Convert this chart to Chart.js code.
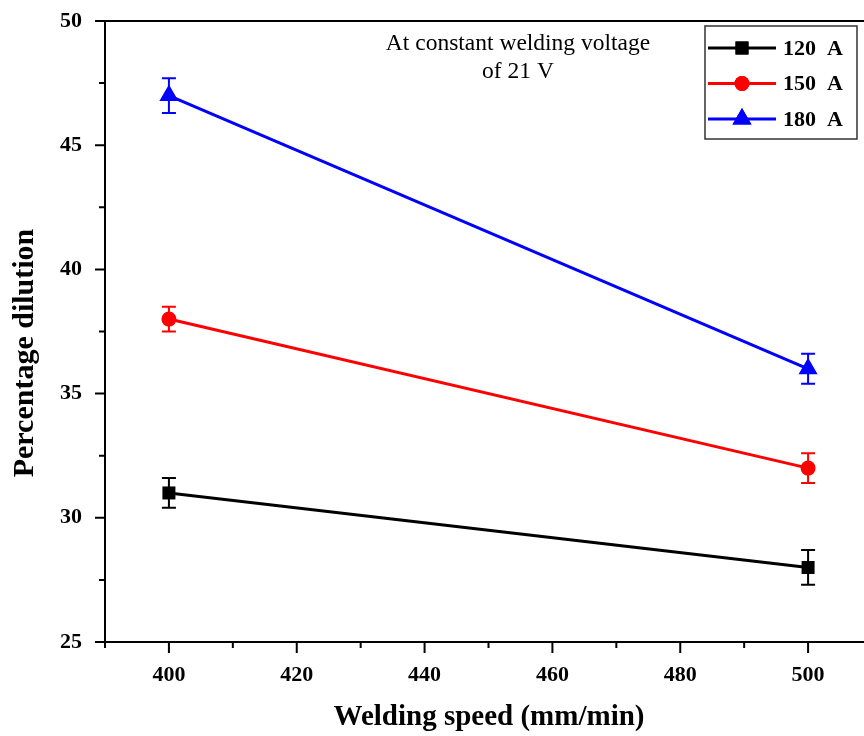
<!DOCTYPE html>
<html>
<head>
<meta charset="utf-8">
<script src="https://cdn.jsdelivr.net/npm/chart.js@4.4.1/dist/chart.umd.min.js"></script>
<style>
  html, body { margin: 0; padding: 0; overflow: hidden; background: #fff; }
  #wrap { width: 883px; height: 736px; }
</style>
</head>
<body>
<div id="wrap"><canvas id="dilutionChart"></canvas></div>
<script>
// welding speed (mm/min) and dilution (%) per current
const speeds = [400, 500];
const dil120 = [31, 28];
const dil150 = [38, 32];
const dil180 = [47, 36];
const err120 = [0.6, 0.7];
const err150 = [0.5, 0.6];
const err180 = [0.7, 0.6];
const seriesLabels = ['120  A', '150  A', '180  A'];
const noteLines = ['At constant welding voltage', 'of 21 V'];

const serif = "'Liberation Serif', 'Times New Roman', serif";

function points(ys) {
  return speeds.map((s, i) => ({ x: s, y: ys[i] }));
}

var data = {
  datasets: [{
    label: seriesLabels[0],
    data: points(dil120),
    errors: err120,
    borderColor: '#000000',
    backgroundColor: '#000000',
    pointStyle: 'rect',
    pointRadius: 9.2
  },
  {
    label: seriesLabels[1],
    data: points(dil150),
    errors: err150,
    borderColor: '#ff0000',
    backgroundColor: '#ff0000',
    pointStyle: 'circle',
    pointRadius: 7.5
  },
  {
    label: seriesLabels[2],
    data: points(dil180),
    errors: err180,
    borderColor: '#0000ff',
    backgroundColor: '#0000ff',
    pointStyle: 'triangle',
    pointRadius: 11
  }]
};

// error bars, drawn under the markers
const errorBars = {
  id: 'errorBars',
  beforeDatasetsDraw(chart) {
    const ctx = chart.ctx;
    const y = chart.scales.y;
    chart.data.datasets.forEach((ds, di) => {
      const meta = chart.getDatasetMeta(di);
      ctx.save();
      ctx.strokeStyle = ds.borderColor;
      ctx.lineWidth = 2;
      meta.data.forEach((pt, i) => {
        const v = ds.data[i].y, e = ds.errors[i];
        const top = y.getPixelForValue(v + e);
        const bot = y.getPixelForValue(v - e);
        ctx.beginPath();
        ctx.moveTo(pt.x, top); ctx.lineTo(pt.x, bot);
        ctx.moveTo(pt.x - 7, top); ctx.lineTo(pt.x + 7, top);
        ctx.moveTo(pt.x - 7, bot); ctx.lineTo(pt.x + 7, bot);
        ctx.stroke();
      });
      ctx.restore();
    });
  }
};

// outward major/minor ticks, top frame line, legend box, note and axis titles
const decorations = {
  id: 'decorations',
  afterDraw(chart) {
    const ctx = chart.ctx;
    const area = chart.chartArea;
    const xs = chart.scales.x, ys = chart.scales.y;
    ctx.save();
    ctx.strokeStyle = '#000';
    ctx.lineWidth = 2;

    ctx.beginPath();
    ctx.moveTo(area.left - 1, area.top);
    ctx.lineTo(area.right, area.top);
    ctx.stroke();

    ctx.beginPath();
    xs.ticks.forEach(t => {
      const px = xs.getPixelForValue(t.value);
      const len = t.value % 20 === 0 ? 11 : 6;
      ctx.moveTo(px, area.bottom);
      ctx.lineTo(px, area.bottom + len);
    });
    ys.ticks.forEach(t => {
      const py = ys.getPixelForValue(t.value);
      const len = t.value % 5 === 0 ? 10 : 6;
      ctx.moveTo(area.left, py);
      ctx.lineTo(area.left - len, py);
    });
    ctx.stroke();

    // legend
    const bx = 705, by = 26, bw = 152, bh = 113;
    ctx.fillStyle = '#fff';
    ctx.fillRect(bx, by, bw, bh);
    ctx.strokeStyle = '#333';
    ctx.lineWidth = 1.5;
    ctx.strokeRect(bx, by, bw, bh);
    ctx.font = 'bold 22px ' + serif;
    ctx.textBaseline = 'middle';
    ctx.textAlign = 'left';
    chart.data.datasets.forEach((ds, i) => {
      const ry = 48 + i * 35.5;
      ctx.strokeStyle = ds.borderColor;
      ctx.lineWidth = 3;
      ctx.beginPath();
      ctx.moveTo(708, ry); ctx.lineTo(776, ry);
      ctx.stroke();
      ctx.fillStyle = ds.backgroundColor;
      Chart.helpers.drawPoint(ctx, { pointStyle: ds.pointStyle, radius: ds.pointRadius, borderWidth: 0 }, 742, ry);
      ctx.fill();
      ctx.fillStyle = '#000';
      ctx.fillText(ds.label, 783, ry + 1);
    });

    // note
    ctx.fillStyle = '#000';
    ctx.font = '23.5px ' + serif;
    ctx.textAlign = 'center';
    ctx.fillText(noteLines[0], 518, 44);
    ctx.fillText(noteLines[1], 518, 72);

    // axis titles
    ctx.font = 'bold 29px ' + serif;
    ctx.fillText('Welding speed (mm/min)', 489, 718);
    ctx.font = 'bold 30px ' + serif;
    ctx.translate(25, 353);
    ctx.rotate(-Math.PI / 2);
    ctx.fillText('Percentage dilution', 0, 0);
    ctx.restore();
  }
};

var options = {
  responsive: true,
  maintainAspectRatio: false,
  animation: false,
  layout: { padding: { top: 21, right: 7, left: 0, bottom: 0 } },
  elements: {
    line: { borderWidth: 3, tension: 0 },
    point: { borderWidth: 0, hoverRadius: 0 }
  },
  plugins: {
    legend: { display: false },
    tooltip: { enabled: false }
  },
  scales: {
    x: {
      type: 'linear',
      min: 390,
      max: 510,
      afterFit: s => { s.height = 94; s.paddingLeft = 0; s.paddingRight = 0; },
      border: { display: true, color: '#000', width: 2 },
      grid: { display: false, drawTicks: false },
      ticks: {
        stepSize: 10,
        autoSkip: false,
        maxRotation: 0,
        padding: 20,
        color: '#000',
        font: { family: serif, size: 22, weight: 'bold' },
        callback: v => (v % 20 === 0 && v >= 400 && v <= 500 ? v : '')
      }
    },
    y: {
      min: 25,
      max: 50,
      afterFit: s => { s.width = 105; s.paddingTop = 0; s.paddingBottom = 0; },
      border: { display: true, color: '#000', width: 2 },
      grid: { display: false, drawTicks: false },
      ticks: {
        stepSize: 2.5,
        autoSkip: false,
        padding: 23,
        color: '#000',
        font: { family: serif, size: 22, weight: 'bold' },
        callback: v => (v % 5 === 0 ? v : '')
      }
    }
  }
};

var ctx = document.getElementById('dilutionChart').getContext('2d');
var dilutionChart = new Chart(ctx, {
  type: 'line',
  data: data,
  options: options,
  plugins: [errorBars, decorations]
});
</script>
</body>
</html>
